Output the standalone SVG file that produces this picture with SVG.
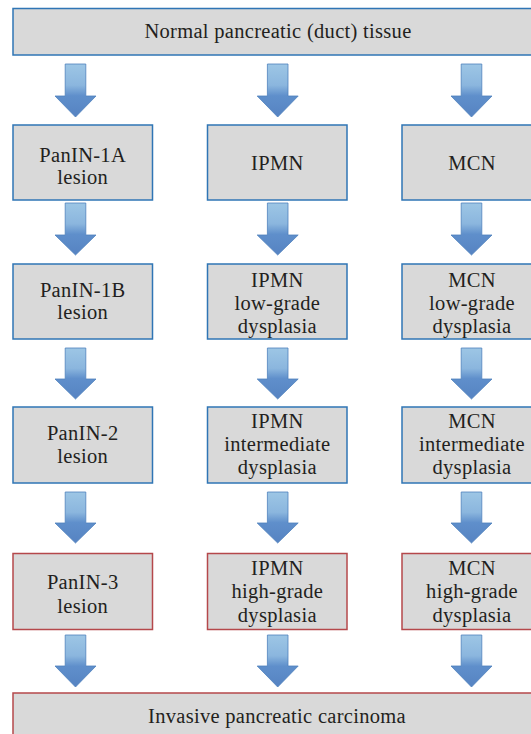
<svg xmlns="http://www.w3.org/2000/svg" width="531" height="734" viewBox="0 0 531 734">
<style>
.box{fill:#d9d9d9;stroke:#2f75b5;stroke-width:1.5}
.red{stroke:#b5484b}
text{font-family:'Liberation Serif','DejaVu Serif',serif;font-size:20.5px;letter-spacing:0.3px;fill:#231f20;text-anchor:middle}
.arr{fill:url(#ag);stroke:#4f81bd;stroke-width:0.8}
</style>
<defs>
<linearGradient id="ag" x1="0" y1="0" x2="0" y2="1">
<stop offset="0" stop-color="#9dc6e5"/>
<stop offset="0.4" stop-color="#8bb6de"/>
<stop offset="0.6" stop-color="#5f8fcb"/>
<stop offset="1" stop-color="#5683c2"/>
</linearGradient>
</defs>
<g id="connectors">
<g class="arr">
<path d="M65.2,64 H85.8 V96 H96 L75.5,117 L55,96 H65.2 Z"/>
<path d="M267.4,64 H288 V96 H298.2 L277.7,117 L257.2,96 H267.4 Z"/>
<path d="M461.2,64 H481.8 V96 H492 L471.5,117 L451,96 H461.2 Z"/>
<path d="M65.2,203 H85.8 V235 H96 L75.5,255 L55,235 H65.2 Z"/>
<path d="M267.4,203 H288 V235 H298.2 L277.7,255 L257.2,235 H267.4 Z"/>
<path d="M461.2,203 H481.8 V235 H492 L471.5,255 L451,235 H461.2 Z"/>
<path d="M65.2,348 H85.8 V379 H96 L75.5,399 L55,379 H65.2 Z"/>
<path d="M267.4,348 H288 V379 H298.2 L277.7,399 L257.2,379 H267.4 Z"/>
<path d="M461.2,348 H481.8 V379 H492 L471.5,399 L451,379 H461.2 Z"/>
<path d="M65.2,492 H85.8 V523 H96 L75.5,543 L55,523 H65.2 Z"/>
<path d="M267.4,492 H288 V523 H298.2 L277.7,543 L257.2,523 H267.4 Z"/>
<path d="M461.2,492 H481.8 V523 H492 L471.5,543 L451,523 H461.2 Z"/>
<path d="M65.2,635 H85.8 V666 H96 L75.5,687 L55,666 H65.2 Z"/>
<path d="M267.4,635 H288 V666 H298.2 L277.7,687 L257.2,666 H267.4 Z"/>
<path d="M461.2,635 H481.8 V666 H492 L471.5,687 L451,666 H461.2 Z"/>
</g>
</g>
<g font-family="Liberation Serif, DejaVu Serif, serif">
<g id="normal"><rect class="box" x="13" y="8.5" width="530" height="46.5"/><text x="278" y="38">Normal pancreatic (duct) tissue</text></g>
<g id="panin1a"><rect class="box" x="13" y="125" width="139.5" height="75"/><text x="82.7" y="161.5">PanIN-1A</text><text x="82.7" y="184">lesion</text></g>
<g id="ipmn"><rect class="box" x="207.5" y="125" width="139.5" height="75"/><text x="277.3" y="170">IPMN</text></g>
<g id="mcn"><rect class="box" x="402" y="125" width="140" height="75"/><text x="472" y="170">MCN</text></g>
<g id="panin1b"><rect class="box" x="13" y="264" width="139.5" height="75"/><text x="82.7" y="296.5">PanIN-1B</text><text x="82.7" y="319">lesion</text></g>
<g id="ipmn-low"><rect class="box" x="207.5" y="264" width="139.5" height="75"/><text x="277.3" y="287">IPMN</text><text x="277.3" y="310">low-grade</text><text x="277.3" y="333">dysplasia</text></g>
<g id="mcn-low"><rect class="box" x="402" y="264" width="140" height="75"/><text x="472" y="287">MCN</text><text x="472" y="310">low-grade</text><text x="472" y="333">dysplasia</text></g>
<g id="panin2"><rect class="box" x="13" y="407" width="139.5" height="76"/><text x="82.7" y="440">PanIN-2</text><text x="82.7" y="462.5">lesion</text></g>
<g id="ipmn-int"><rect class="box" x="207.5" y="407" width="139.5" height="76"/><text x="277.3" y="428">IPMN</text><text x="277.3" y="451">intermediate</text><text x="277.3" y="474">dysplasia</text></g>
<g id="mcn-int"><rect class="box" x="402" y="407" width="140" height="76"/><text x="472" y="428">MCN</text><text x="472" y="451">intermediate</text><text x="472" y="474">dysplasia</text></g>
<g id="panin3"><rect class="box red" x="13" y="553.5" width="139.5" height="76"/><text x="82.7" y="589">PanIN-3</text><text x="82.7" y="612.5">lesion</text></g>
<g id="ipmn-high"><rect class="box red" x="207.5" y="553.5" width="139.5" height="76"/><text x="277.3" y="575">IPMN</text><text x="277.3" y="598">high-grade</text><text x="277.3" y="621.5">dysplasia</text></g>
<g id="mcn-high"><rect class="box red" x="402" y="553.5" width="140" height="76"/><text x="472" y="575">MCN</text><text x="472" y="598">high-grade</text><text x="472" y="621.5">dysplasia</text></g>
<g id="invasive"><rect class="box red" x="13" y="693" width="530" height="50"/><text x="277" y="723">Invasive pancreatic carcinoma</text></g>
</g>
</svg>
